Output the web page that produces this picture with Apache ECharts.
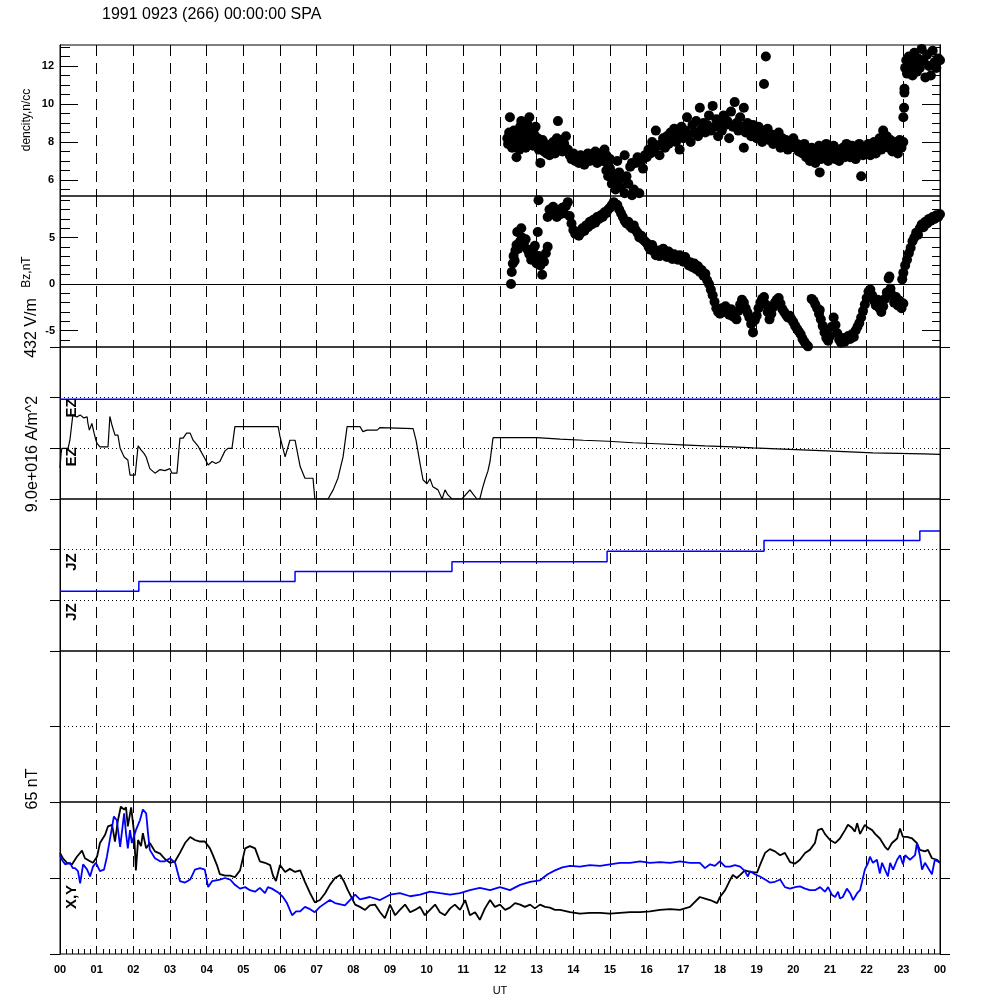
<!DOCTYPE html>
<html><head><meta charset="utf-8">
<script src="https://cdn.jsdelivr.net/npm/echarts@6/dist/echarts.min.js"></script>
<style>html,body{margin:0;padding:0;background:#fff}#c{width:1000px;height:1000px}</style>
</head><body><div id="c"></div>
<script>
const FONT = '"Liberation Sans", Arial, Helvetica, sans-serif';
const titleText = '1991 0923 (266) 00:00:00 SPA';
const hourLabels = ['00','01','02','03','04','05','06','07','08','09','10','11','12','13','14','15','16','17','18','19','20','21','22','23','00'];

const densityMajorTicks = [6, 8, 10, 12];
const densityMinorTicks = [5.5, 6.5, 7, 7.5, 8.5, 9, 9.5, 10.5, 11, 11.5, 12.5, 13];
const bzMajorTicks = [-5, 0, 5];
const bzMinorTicks = [-6, -4, -3, -2, -1, 1, 2, 3, 4, 6, 7, 8, 9];

// density, n/cc  [UT hour, value]
const density = [
[12.2,8.2],[12.22,7.9],[12.25,8.5],[12.27,9.3],[12.3,8.0],[12.33,7.7],[12.35,8.3],[12.38,8.6],[12.4,7.8],[12.43,8.1],[12.45,7.2],[12.48,8.4],[12.5,8.0],[12.53,7.6],[12.55,8.8],[12.58,9.1],[12.6,8.2],[12.63,7.9],[12.66,8.5],[12.7,7.7],[12.73,8.3],[12.76,8.9],[12.8,9.3],[12.83,8.0],[12.86,8.6],[12.9,7.8],[12.93,8.4],[12.97,8.8],[13.0,7.9],[13.03,8.2],[13.06,7.6],[13.1,6.9],[13.13,7.8],[13.16,8.1],[13.2,7.5],[13.23,7.9],[13.27,7.4],[13.3,7.7],
[13.35,7.3],[13.4,7.6],[13.45,8.0],[13.5,7.4],[13.55,8.2],[13.58,9.1],[13.6,7.8],[13.65,8.1],[13.7,7.5],[13.75,7.9],[13.8,8.3],[13.85,7.6],[13.9,7.3],[13.95,7.1],
[14.0,7.4],[14.05,7.0],[14.1,7.2],[14.15,6.9],[14.2,7.3],[14.25,7.1],[14.3,6.8],[14.35,7.2],[14.4,7.4],[14.45,7.0],[14.5,7.3],[14.55,7.1],[14.6,7.5],[14.65,6.9],[14.7,7.2],[14.75,7.4],[14.8,7.0],[14.85,7.6],[14.9,7.3],[14.95,6.8],[15.0,7.1],
[14.9,6.5],[14.95,6.2],[15.0,6.6],[15.05,5.8],[15.1,6.3],[15.15,5.5],[15.2,6.0],[15.25,6.4],[15.3,5.6],[15.35,6.1],[15.4,5.3],[15.45,6.2],[15.5,5.8],[15.55,6.7],[15.6,5.2],[15.65,5.5],[15.7,6.9],[15.75,7.2],[15.8,5.3],[15.85,7.0],[15.9,6.6],[15.95,7.3],[15.2,7.0],[15.4,7.3],[15.6,6.9],
[16.0,7.2],[16.05,7.6],[16.1,7.4],[16.15,8.0],[16.2,7.5],[16.25,8.6],[16.3,7.8],[16.35,7.3],[16.4,7.9],[16.45,8.2],[16.5,7.7],
[16.55,8.3],[16.6,7.9],[16.65,8.5],[16.7,8.1],[16.75,8.7],[16.8,8.0],[16.85,8.4],[16.9,7.6],[16.95,8.8],[17.0,8.2],[17.05,8.6],[17.1,9.3],[17.15,8.4],[17.2,8.0],[17.25,8.9],[17.3,8.5],[17.35,9.1],[17.4,8.3],[17.45,9.8],[17.5,8.7],[17.55,9.0],[17.6,8.5],[17.65,8.9],[17.7,9.4],[17.75,8.6],[17.8,9.9],
[17.85,8.8],[17.9,9.2],[17.95,8.3],[18.0,9.0],[18.05,8.6],[18.1,9.4],[18.15,8.9],[18.2,9.1],[18.25,8.2],[18.3,9.6],[18.35,8.8],[18.4,10.1],[18.45,9.0],[18.5,8.6],[18.55,9.3],[18.6,8.8],[18.65,9.8],[18.65,7.7],[18.7,8.5],[18.75,9.0],[18.8,8.7],[18.85,8.3],[18.9,8.9],[18.95,8.5],[19.0,8.2],[19.05,8.8],[19.1,8.4],[19.15,8.0],[19.2,8.6],[19.25,8.3],[19.3,8.7],[19.35,8.1],
[19.25,12.5],[19.2,11.05],
[19.4,8.4],[19.45,7.9],[19.5,8.3],[19.55,8.0],[19.6,8.5],[19.65,7.7],[19.7,8.2],[19.75,7.9],[19.8,8.1],[19.85,7.6],[19.9,8.0],[19.95,7.8],[20.0,8.2],[20.05,7.7],[20.1,7.9],[20.15,7.5],
[20.2,7.8],[20.25,7.4],[20.3,7.9],[20.35,7.2],[20.4,7.6],[20.45,7.0],[20.5,7.7],[20.55,7.3],[20.6,6.9],[20.65,7.5],[20.7,7.8],[20.72,6.4],[20.75,7.1],[20.8,7.6],[20.85,7.2],[20.9,7.9],[20.95,7.0],[21.0,7.5],[21.05,7.3],[21.1,7.8],[21.15,7.1],[21.2,7.6],[21.25,7.0],[21.3,7.4],[21.35,7.7],[21.4,7.2],[21.45,7.9],
[21.5,7.5],[21.55,7.2],[21.6,7.8],[21.65,7.4],[21.7,7.1],[21.75,7.6],[21.8,7.9],[21.85,6.2],[21.9,7.3],[21.95,7.7],[22.0,7.5],[22.05,7.9],[22.1,7.3],[22.15,7.6],[22.2,8.0],[22.25,7.4],[22.3,7.8],[22.35,8.2],[22.4,7.6],[22.45,8.6],[22.5,7.9],[22.55,8.3],[22.6,7.7],[22.65,8.1],[22.7,7.5],[22.75,8.0],[22.8,7.8],[22.85,7.4],[22.9,8.1],[22.95,7.7],
[23.0,8.0],[23.0,9.3],[23.02,9.8],[23.03,10.6],[23.03,10.8],
[23.05,11.9],[23.08,12.3],[23.1,11.6],[23.12,12.0],[23.15,12.5],[23.18,11.8],[23.2,12.2],[23.25,11.5],[23.3,12.7],[23.33,12.1],[23.37,11.7],[23.4,12.4],[23.45,11.9],[23.5,12.9],[23.55,12.3],[23.6,11.4],[23.65,12.6],[23.7,12.0],[23.75,11.5],[23.8,12.8],[23.85,12.2],[23.9,11.9],[23.95,12.4],[24.0,12.3]
];

// Bz, nT  [UT hour, value]
const bz = [
[12.3,0.0],[12.32,1.3],[12.35,2.2],[12.37,3.0],[12.4,2.5],[12.42,3.6],[12.45,4.2],[12.47,5.6],[12.5,3.8],[12.55,4.6],[12.58,6.0],[12.6,5.0],[12.65,4.3],[12.7,4.8],[12.75,3.7],[12.8,3.2],[12.85,2.6],[12.9,3.5],[12.95,4.1],[13.0,2.2],[13.03,5.6],[13.05,3.0],[13.1,2.0],[13.15,1.0],[13.2,2.4],[13.25,3.3],[13.3,4.0],
[13.05,9.0],[13.3,7.2],[13.35,8.0],[13.4,7.5],[13.45,8.3],[13.5,7.8],[13.55,7.2],[13.6,7.9],[13.65,7.5],[13.7,8.2],[13.75,7.6],[13.8,8.4],[13.85,8.8],[13.9,7.3],
[13.95,6.5],[14.0,5.8],[14.05,5.4],[14.1,5.6],[14.15,5.2],[14.2,5.5],[14.25,6.0],[14.3,5.7],[14.35,6.3],[14.4,6.1],[14.45,6.7],
[14.5,6.4],[14.55,6.9],[14.6,6.6],[14.65,7.2],[14.7,7.0],[14.75,7.4],[14.8,7.2],[14.85,7.7],[14.9,7.6],[14.95,8.0],[15.0,8.2],[15.05,8.5],[15.1,8.8],[15.15,8.6],
[15.2,8.5],[15.25,8.0],[15.3,7.6],[15.35,7.2],[15.4,6.8],[15.45,6.5],[15.5,6.7],[15.55,6.2],[15.6,6.0],[15.65,6.3],[15.7,5.8],[15.75,5.5],[15.8,5.0],[15.85,5.2],[15.9,4.8],[15.95,4.6],
[16.0,4.4],[16.05,4.0],[16.1,3.7],[16.15,4.2],[16.2,3.5],[16.25,3.1],[16.3,3.6],[16.35,3.0],[16.4,3.4],[16.45,3.8],[16.5,3.2],[16.55,2.9],[16.6,3.5],[16.65,3.1],[16.7,2.7],[16.75,3.2],[16.8,3.0],[16.85,2.6],[16.9,3.1],[16.95,2.8],[17.0,2.4],[17.05,2.9],[17.1,2.5],[17.15,2.0],[17.2,2.3],[17.25,1.8],[17.3,2.2],
[17.35,1.6],[17.4,1.9],[17.45,1.3],[17.5,1.5],[17.55,0.9],[17.6,1.1],[17.65,0.4],[17.7,0.0],[17.75,-0.6],[17.8,-1.2],[17.85,-1.9],[17.9,-2.6],[17.95,-3.0],
[18.0,-3.2],[18.05,-2.6],[18.1,-3.0],[18.15,-2.4],[18.2,-2.8],[18.25,-3.3],[18.3,-2.7],[18.35,-3.5],[18.4,-3.1],[18.45,-3.8],[18.5,-2.9],[18.55,-2.2],[18.6,-1.7],[18.65,-2.0],[18.7,-2.6],[18.75,-3.1],[18.8,-3.6],[18.85,-4.3],[18.9,-5.2],[18.95,-3.9],
[19.0,-3.4],[19.05,-2.6],[19.1,-2.0],[19.15,-1.6],[19.2,-1.4],[19.25,-2.2],[19.3,-3.0],[19.35,-3.8],[19.4,-3.2],[19.45,-2.5],[19.5,-2.0],[19.55,-1.7],[19.6,-1.5],[19.65,-2.1],[19.7,-2.7],
[19.75,-3.0],[19.8,-3.3],[19.85,-3.6],[19.9,-3.4],[19.95,-3.8],[20.0,-4.1],[20.05,-4.5],[20.1,-4.8],[20.15,-5.1],[20.2,-5.4],[20.25,-5.9],[20.3,-6.2],[20.35,-6.5],[20.4,-6.7],
[20.5,-1.6],[20.55,-1.8],[20.6,-2.2],[20.65,-2.6],[20.7,-3.2],[20.72,-2.8],
[20.75,-3.8],[20.8,-4.5],[20.85,-5.2],[20.9,-5.8],[20.95,-6.1],[21.0,-5.6],[21.05,-4.6],[21.1,-3.6],[21.15,-4.4],[21.2,-5.3],[21.25,-6.0],[21.3,-6.3],[21.35,-5.8],[21.4,-6.2],[21.45,-5.9],
[21.5,-5.6],[21.55,-5.9],[21.6,-5.4],[21.65,-5.7],[21.7,-5.0],[21.75,-4.6],[21.8,-4.2],[21.85,-3.6],
[21.9,-2.9],[21.95,-2.2],[22.0,-1.5],[22.05,-0.8],[22.1,-0.6],[22.15,-1.2],[22.2,-1.8],[22.25,-2.3],[22.3,-1.7],[22.35,-2.6],[22.4,-3.0],[22.45,-2.4],[22.5,-1.6],[22.55,-0.9],[22.6,0.6],[22.62,0.8],[22.65,-0.5],[22.7,-1.2],[22.75,-2.0],[22.8,-1.4],[22.85,-2.3],[22.9,-1.8],[22.95,-2.6],[23.0,-2.1],
[22.97,0.5],[23.0,1.2],[23.05,2.0],[23.1,2.6],[23.15,3.3],[23.2,3.9],
[23.25,4.6],[23.3,5.0],[23.35,5.5],[23.4,5.3],[23.45,6.0],[23.5,6.4],[23.55,6.1],[23.6,6.7],[23.65,6.5],[23.7,7.0],[23.75,6.8],[23.8,7.2],[23.85,7.0],[23.9,7.4],[23.95,7.2],[24.0,7.5]
];

// EZ (normalised panel units)
const ezEarly = [
[0,-0.39],[0.03,-0.1],[0.05,0.0],[0.22,0.0],[0.27,0.16],[0.35,0.66],[0.46,0.62],[0.55,0.66],[0.65,0.6],[0.74,0.62],[0.76,0.5],[0.8,0.36],[0.87,0.49],[0.93,0.3],[0.98,0.16],[1.01,0.1],[1.09,0.03],[1.17,0.03],[1.31,0.03],[1.36,0.63],[1.42,0.45],[1.5,0.26],[1.58,0.26],[1.64,0.0],[1.75,-0.17],[1.85,-0.23],[1.91,-0.53],[2.05,-0.53],[2.13,0.05],[2.21,-0.03],[2.29,-0.1],[2.35,-0.17],[2.45,-0.4],[2.59,-0.49],[2.73,-0.42],[2.86,-0.44],[3.0,-0.4],[3.05,-0.49],[3.19,-0.49],[3.27,0.2],[3.36,0.2],[3.45,0.3],[3.55,0.3],[3.63,0.16],[3.76,0.05],[3.82,-0.03],[3.87,0.0],[3.95,-0.2],[4.04,-0.33],[4.15,-0.26],[4.25,-0.3],[4.36,-0.26],[4.5,-0.05],[4.58,0.0],[4.69,0.0],[4.77,0.43],[5.95,0.43],[5.98,0.45],[6.0,0.23],[6.14,-0.17],[6.27,0.16],[6.41,0.16],[6.55,-0.36],[6.68,-0.59],[6.9,-0.59],[6.95,-1],[7.31,-1],[7.45,-0.82],[7.58,-0.59],[7.72,-0.17],[7.83,0.43],[8.18,0.43],[8.26,0.33],[8.37,0.36],[8.65,0.36],[8.73,0.41],[9.63,0.39],[9.71,0.16],[9.82,-0.3],[9.9,-0.62],[10.01,-0.7],[10.09,-0.6],[10.17,-0.76],[10.31,-0.82],[10.42,-1],[10.5,-0.82],[10.58,-0.92],[10.69,-1],[10.96,-1],[11.18,-0.82],[11.26,-0.9],[11.37,-1],[11.45,-1],[11.51,-0.82],[11.59,-0.62],[11.67,-0.45],[11.73,-0.25],[11.81,0.21]
];
const ezLate = [
[11.81,0.21],[13.0,0.18],[13.64,0.16],[14.27,0.14],[14.95,0.11],[15.63,0.09],[16.27,0.07],[16.96,0.05],[17.59,0.03],[18.33,0.01],[18.9,-0.01],[19.55,-0.03],[20.24,-0.05],[20.92,-0.07],[21.55,-0.09],[22.17,-0.10],[22.85,-0.11],[23.54,-0.12],[24,-0.12]
];
const ezBlueLevel = [[0,0.97],[24,0.97]];

// JZ steps
const jzSteps = [[0,0.18],[2.15,0.37],[6.41,0.57],[10.69,0.76],[14.92,0.97],[19.2,1.18],[23.45,1.37],[24,1.37]];

// X (black) and Y (blue), 65 nT panel
const magX = [
[0,0.33],[0.08,0.26],[0.19,0.2],[0.33,0.18],[0.46,0.28],[0.6,0.36],[0.68,0.26],[0.82,0.22],[0.9,0.2],[1.01,0.28],[1.09,0.46],[1.23,0.57],[1.31,0.68],[1.42,0.7],[1.5,0.48],[1.58,0.76],[1.66,0.94],[1.75,0.9],[1.8,0.93],[1.85,0.68],[1.94,0.93],[2.02,0.6],[2.07,0.1],[2.13,0.5],[2.21,0.42],[2.26,0.59],[2.35,0.39],[2.45,0.46],[2.59,0.35],[2.73,0.32],[2.86,0.25],[3.0,0.2],[3.14,0.22],[3.27,0.33],[3.41,0.46],[3.55,0.54],[3.68,0.5],[3.82,0.48],[3.95,0.48],[4.09,0.39],[4.17,0.3],[4.28,0.17],[4.36,0.05],[4.5,0.03],[4.64,0.03],[4.77,0.01],[4.91,0.1],[5.05,0.39],[5.18,0.42],[5.32,0.39],[5.45,0.22],[5.59,0.2],[5.73,0.17],[5.81,0.03],[5.89,-0.04],[6.0,0.17],[6.14,0.08],[6.27,0.12],[6.41,0.08],[6.55,0.1],
[6.68,-0.05],[6.82,-0.2],[6.95,-0.32],[7.09,-0.29],[7.23,-0.2],[7.36,-0.09],[7.5,0.0],[7.64,0.04],[7.75,-0.05],[7.85,-0.16],[8.05,-0.35],[8.18,-0.38],[8.32,-0.42],[8.45,-0.36],[8.59,-0.35],[8.73,-0.45],[8.86,-0.53],[9.0,-0.35],[9.14,-0.49],[9.27,-0.42],[9.41,-0.35],[9.55,-0.45],[9.68,-0.42],[9.82,-0.38],[9.95,-0.49],[10.09,-0.42],[10.23,-0.35],[10.36,-0.45],[10.5,-0.49],[10.64,-0.4],[10.77,-0.35],[10.91,-0.42],[11.05,-0.29],[11.18,-0.49],[11.32,-0.45],[11.45,-0.55],[11.59,-0.4],[11.73,-0.29],[11.86,-0.38],[12.0,-0.35],[12.14,-0.42],[12.27,-0.39],[12.41,-0.33],[12.55,-0.35],[12.68,-0.38],[12.82,-0.35],[12.95,-0.4],[13.09,-0.35],[13.23,-0.38],[13.36,-0.39],[13.5,-0.42],[13.64,-0.42],[13.91,-0.45],[14.18,-0.47],[14.45,-0.46],[14.73,-0.46],[15.0,-0.47],[15.27,-0.46],[15.55,-0.45],[15.82,-0.45],[16.09,-0.44],[16.36,-0.42],[16.64,-0.41],[16.91,-0.42],[17.18,-0.38],[17.45,-0.25],[17.59,-0.27],[17.73,-0.29],[17.92,-0.33],
[18.0,-0.25],[18.14,-0.16],[18.27,-0.03],[18.35,0.04],[18.46,0.0],[18.55,0.04],[18.68,0.1],[18.82,0.08],[19.01,0.07],[19.09,0.17],[19.23,0.33],[19.36,0.38],[19.5,0.35],[19.64,0.3],[19.77,0.33],[19.91,0.21],[20.05,0.19],[20.18,0.24],[20.32,0.33],[20.45,0.37],[20.59,0.46],[20.67,0.63],[20.78,0.65],[20.86,0.58],[21.0,0.5],[21.14,0.46],[21.27,0.52],[21.41,0.63],[21.49,0.7],[21.6,0.66],[21.68,0.61],[21.74,0.72],[21.82,0.58],[21.95,0.7],[22.04,0.66],[22.15,0.63],[22.23,0.58],[22.36,0.52],[22.5,0.41],[22.58,0.37],[22.69,0.46],[22.83,0.52],[22.91,0.65],[22.99,0.54],[23.1,0.54],[23.24,0.52],[23.37,0.46],[23.45,0.37],[23.59,0.35],[23.67,0.37],[23.78,0.26],[23.92,0.24],[24,0.2]
];
const magY = [
[0,0.3],[0.05,0.24],[0.14,0.18],[0.27,0.2],[0.35,0.13],[0.41,0.13],[0.49,0.09],[0.55,-0.07],[0.63,0.18],[0.74,0.11],[0.82,0.02],[0.9,0.15],[0.98,0.2],[1.09,0.09],[1.2,0.11],[1.28,0.28],[1.39,0.59],[1.47,0.81],[1.55,0.76],[1.64,0.41],[1.75,0.85],[1.8,0.59],[1.85,0.39],[1.91,0.63],[1.96,0.46],[2.07,0.63],[2.18,0.76],[2.26,0.9],[2.35,0.85],[2.4,0.59],[2.45,0.37],[2.59,0.26],[2.73,0.22],[2.86,0.22],[3.0,0.26],[3.14,0.2],[3.27,-0.04],[3.41,-0.06],[3.55,-0.02],[3.68,0.11],[3.82,0.13],[3.95,0.11],[4.04,-0.12],[4.15,-0.04],[4.36,-0.02],[4.5,0.0],[4.64,-0.02],[4.77,-0.09],[4.91,-0.14],[5.05,-0.12],[5.18,-0.16],[5.32,-0.18],[5.45,-0.13],[5.59,-0.2],[5.67,-0.12],[5.78,-0.14],[5.95,-0.19],[6.08,-0.25],[6.19,-0.33],[6.33,-0.49],[6.44,-0.44],[6.55,-0.44],
[6.68,-0.38],[6.82,-0.41],[6.95,-0.45],[7.09,-0.38],[7.36,-0.29],[7.5,-0.33],[7.77,-0.36],[8.05,-0.22],[8.18,-0.28],[8.45,-0.25],[8.73,-0.29],[9.0,-0.22],[9.27,-0.2],[9.55,-0.24],[9.82,-0.22],[10.09,-0.18],[10.36,-0.2],[10.64,-0.22],[10.91,-0.2],[11.18,-0.16],[11.45,-0.13],[11.73,-0.16],[12.0,-0.12],[12.27,-0.16],[12.55,-0.09],[12.82,-0.05],[13.09,-0.03],[13.3,0.05],[13.5,0.1],[13.7,0.14],[13.91,0.16],[14.18,0.15],[14.45,0.17],[14.73,0.16],[15.0,0.18],[15.27,0.2],[15.55,0.2],[15.82,0.22],[16.09,0.2],[16.36,0.21],[16.64,0.2],[16.91,0.22],[17.18,0.2],
[17.45,0.2],[17.59,0.13],[17.73,0.18],[17.86,0.16],[18.0,0.22],[18.14,0.15],[18.27,0.15],[18.41,0.17],[18.55,0.15],[18.6,0.17],[18.68,0.09],[18.76,0.02],[18.82,0.09],[18.95,0.05],[19.09,0.02],[19.23,-0.02],[19.36,-0.06],[19.5,-0.05],[19.64,-0.02],[19.77,-0.12],[19.91,-0.14],[20.05,-0.12],[20.18,-0.11],[20.32,-0.14],[20.45,-0.16],[20.59,-0.16],[20.73,-0.12],[20.86,-0.18],[20.95,-0.12],[21.05,-0.22],[21.14,-0.25],[21.22,-0.18],[21.27,-0.27],[21.35,-0.25],[21.46,-0.14],[21.55,-0.2],[21.63,-0.29],[21.74,-0.2],[21.82,-0.16],[21.87,-0.06],[21.95,0.11],[22.04,0.2],[22.09,0.28],[22.17,0.2],[22.28,0.24],[22.36,0.06],[22.42,0.2],[22.5,0.11],[22.58,0.02],[22.64,0.2],[22.72,0.11],[22.83,0.24],[22.91,0.3],[22.99,0.18],[23.05,0.3],[23.18,0.24],[23.32,0.3],[23.37,0.46],[23.45,0.3],[23.51,0.11],[23.59,0.2],[23.73,0.09],[23.78,0.05],[23.86,0.24],[24,0.2]
];

// ---------- layout ----------
const gridTops = [45, 196, 347, 499, 651, 802];
const gridHeights = [151, 151, 152, 152, 151, 152];
const yRanges = [[5.158, 13.105], [-6.77, 9.46], [-1, 2], [-1, 2], [-1, 1], [-1, 1]];

const grids = gridTops.map((t, i) => ({
  left: 60, width: 880, top: t, height: gridHeights[i],
  show: true, borderColor: '#000', borderWidth: 1, backgroundColor: 'transparent'
}));

const xAxes = gridTops.map((t, i) => {
  const last = i === gridTops.length - 1;
  return {
    type: 'value', gridIndex: i, position: 'bottom', min: 0, max: 24, interval: 1,
    axisLine: { show: false, onZero: false },
    axisTick: { show: last, inside: true, length: 5, lineStyle: { color: '#000' } },
    minorTick: { show: last, splitNumber: 6, length: 5, lineStyle: { color: '#000' } },
    axisLabel: {
      show: last, margin: 10, color: '#000', fontFamily: FONT, fontSize: 11, fontWeight: 'bold',
      formatter: v => hourLabels[Math.round(v)]
    },
    splitLine: { show: true, showMinLine: false, showMaxLine: false,
      lineStyle: { color: '#000', width: 1, type: [11, 7] } },
    name: last ? 'UT' : '', nameLocation: 'middle', nameGap: 31,
    nameTextStyle: { color: '#000', fontFamily: FONT, fontSize: 11 }
  };
});

function tickAxis(grid, range, pos, values, len, labels, labelMargin) {
  return {
    type: 'value', gridIndex: grid, position: pos, min: range[0], max: range[1],
    axisLine: { show: true, onZero: false, lineStyle: { color: '#000', width: 1 } },
    axisTick: { show: true, inside: true, length: len, customValues: values, lineStyle: { color: '#000', width: 1 } },
    axisLabel: labels ? { show: true, customValues: labels, margin: labelMargin, color: '#000', fontFamily: FONT, fontSize: 11, fontWeight: 'bold' } : { show: false },
    splitLine: { show: false }
  };
}
function plainAxis(grid, range, pos, dotted) {
  return {
    type: 'value', gridIndex: grid, position: pos, min: range[0], max: range[1], interval: 1,
    axisLine: { show: true, onZero: false, lineStyle: { color: '#000' } },
    axisTick: { show: true, inside: false, length: 10, lineStyle: { color: '#000' } },
    axisLabel: { show: false },
    splitLine: { show: dotted, showMinLine: false, showMaxLine: false, lineStyle: { color: '#000', width: 1, type: [1, 3] } }
  };
}

const yAxes = [
  tickAxis(0, yRanges[0], 'left', densityMajorTicks, 18, densityMajorTicks, 6),
  tickAxis(0, yRanges[0], 'left', densityMinorTicks, 10, null),
  tickAxis(0, yRanges[0], 'right', densityMajorTicks, 18, null),
  tickAxis(0, yRanges[0], 'right', densityMinorTicks, 8, null),
  tickAxis(1, yRanges[1], 'left', bzMajorTicks, 18, bzMajorTicks, 5),
  tickAxis(1, yRanges[1], 'left', bzMinorTicks, 10, null),
  tickAxis(1, yRanges[1], 'right', bzMajorTicks, 18, null),
  tickAxis(1, yRanges[1], 'right', bzMinorTicks, 8, null),
  plainAxis(2, yRanges[2], 'left', true),
  plainAxis(2, yRanges[2], 'right', false),
  plainAxis(3, yRanges[3], 'left', true),
  plainAxis(3, yRanges[3], 'right', false),
  plainAxis(4, yRanges[4], 'left', true),
  plainAxis(4, yRanges[4], 'right', false),
  plainAxis(5, yRanges[5], 'left', true),
  plainAxis(5, yRanges[5], 'right', false)
];

const series = [
  { type: 'scatter', xAxisIndex: 0, yAxisIndex: 0, data: density, symbol: 'circle', symbolSize: 10,
    itemStyle: { color: '#000', opacity: 1 }, silent: true },
  { type: 'scatter', xAxisIndex: 1, yAxisIndex: 4, data: bz, symbol: 'circle', symbolSize: 10,
    itemStyle: { color: '#000', opacity: 1 }, silent: true,
    markLine: { silent: true, symbol: 'none', label: { show: false },
      lineStyle: { color: '#000', type: 'solid', width: 1 }, data: [{ yAxis: 0 }] } },
  { type: 'line', xAxisIndex: 2, yAxisIndex: 8, data: ezBlueLevel, showSymbol: false,
    lineStyle: { color: '#0000ff', width: 1.5 } },
  { type: 'line', xAxisIndex: 2, yAxisIndex: 8, data: ezEarly, showSymbol: false,
    lineStyle: { color: '#000', width: 1.2 } },
  { type: 'line', xAxisIndex: 2, yAxisIndex: 8, data: ezLate, step: 'end', showSymbol: false,
    lineStyle: { color: '#000', width: 1.2 } },
  { type: 'line', xAxisIndex: 3, yAxisIndex: 10, data: jzSteps, step: 'end', showSymbol: false,
    lineStyle: { color: '#0000ff', width: 1.5 } },
  { type: 'line', xAxisIndex: 5, yAxisIndex: 14, data: magX, showSymbol: false,
    lineStyle: { color: '#000', width: 1.8 } },
  { type: 'line', xAxisIndex: 5, yAxisIndex: 14, data: magY, showSymbol: false,
    lineStyle: { color: '#0000ff', width: 1.8 } }
];

function vtext(text, x, y, size, weight) {
  return { type: 'text', x: x, y: y, rotation: Math.PI / 2, z: 100,
    style: { text: text, fill: '#000', font: (weight || 'normal') + ' ' + size + 'px ' + FONT, align: 'center', verticalAlign: 'middle' } };
}

const graphics = [
  { type: 'text', x: 102, y: 15, z: 100,
    style: { text: titleText, fill: '#000', font: '16px ' + FONT, align: 'left', verticalAlign: 'middle' } },
  vtext('dencity,n/cc', 27, 120, 12),
  vtext('Bz,nT', 27, 272, 12),
  vtext('432 V/m', 32, 328, 16),
  vtext('9.0e+016 A/m^2', 33, 454, 16),
  vtext('EZ', 72, 408, 15, 'bold'),
  vtext('EZ', 72, 457, 15, 'bold'),
  vtext('JZ', 72, 562, 15, 'bold'),
  vtext('JZ', 72, 612, 15, 'bold'),
  vtext('65 nT', 33, 789, 16),
  vtext('X,Y', 72, 897, 15, 'bold')
];

const chart = echarts.init(document.getElementById('c'), null, { renderer: 'canvas' });
chart.setOption({
  animation: false,
  backgroundColor: '#fff',
  grid: grids,
  xAxis: xAxes,
  yAxis: yAxes,
  series: series,
  graphic: graphics
});
</script></body></html>
